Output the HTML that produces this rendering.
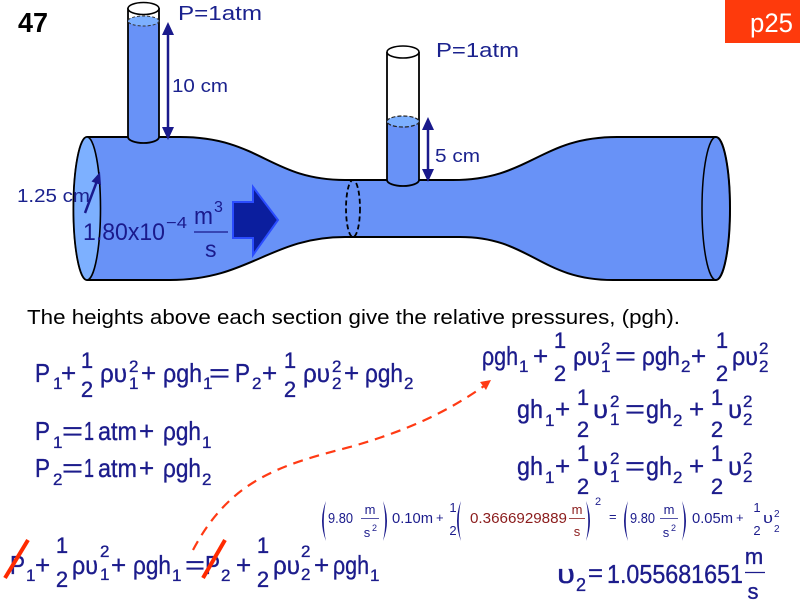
<!DOCTYPE html>
<html><head><meta charset="utf-8"><style>
html,body{margin:0;padding:0;background:#fff;}
svg{display:block;}
text{font-family:"Liberation Sans",sans-serif;}
.eq text{stroke:#1c1c8c;stroke-width:0.35;}
</style></head><body>
<svg width="800" height="600" viewBox="0 0 800 600" xmlns="http://www.w3.org/2000/svg">
<rect width="800" height="600" fill="#fff"/>

<!-- pipe body -->
<path d="M87,137 L180,137 C260,137 270,180 345,180 L453,180 C530,180 540,137 617,137 L716,137 A14,71.5 0 0 1 716,280 L613,280 C540,280 530,237 460,237 L345,237 C270,237 250,280 170,280 L87,280 A13.5,71.5 0 0 1 87,137 Z" fill="#6892f7" stroke="#000" stroke-width="2"/>
<ellipse cx="87" cy="208.5" rx="13.5" ry="71.5" fill="#7db0ff" stroke="#000" stroke-width="1.6"/>
<ellipse cx="716" cy="208.5" rx="14" ry="71.5" fill="none" stroke="#000" stroke-width="1.5"/>
<ellipse cx="353" cy="208.5" rx="7" ry="28.5" fill="none" stroke="#000" stroke-width="1.8" stroke-dasharray="5 3"/>

<!-- left tube -->
<rect x="128" y="8" width="31" height="14" fill="#fff"/>
<rect x="128" y="21" width="31" height="117" fill="#6892f7"/>
<path d="M128,137 A15.5,6 0 0 0 159,137" fill="#6892f7" stroke="#000" stroke-width="1.8"/>
<line x1="128" y1="8" x2="128" y2="137" stroke="#000" stroke-width="1.8"/>
<line x1="159" y1="8" x2="159" y2="137" stroke="#000" stroke-width="1.8"/>
<ellipse cx="143.5" cy="21" rx="15.5" ry="5" fill="#7db0ff" stroke="#333" stroke-width="1" stroke-dasharray="3 2"/>
<ellipse cx="143.5" cy="8.5" rx="15.5" ry="6" fill="#fff" stroke="#000" stroke-width="1.6"/>

<!-- right tube -->
<rect x="387" y="52" width="32" height="70" fill="#fff"/>
<rect x="387" y="122" width="32" height="59" fill="#6892f7"/>
<path d="M387,180 A16,6 0 0 0 419,180" fill="#6892f7" stroke="#000" stroke-width="1.8"/>
<line x1="387" y1="52" x2="387" y2="180" stroke="#000" stroke-width="1.8"/>
<line x1="419" y1="52" x2="419" y2="180" stroke="#000" stroke-width="1.8"/>
<ellipse cx="403" cy="121.5" rx="16" ry="5.5" fill="#7db0ff" stroke="#222" stroke-width="1.2" stroke-dasharray="4 2"/>
<ellipse cx="403" cy="52" rx="16" ry="6" fill="#fff" stroke="#000" stroke-width="1.6"/>

<!-- dimension arrows -->
<g fill="#1a1a8c" stroke="none">
<line x1="168" y1="30" x2="168" y2="132" stroke="#1a1a8c" stroke-width="2.5"/>
<polygon points="168,22 162,35 174,35"/>
<polygon points="168,140 162,127 174,127"/>
<line x1="428" y1="125" x2="428" y2="174" stroke="#1a1a8c" stroke-width="2.5"/>
<polygon points="428,117 422,130 434,130"/>
<polygon points="428,182 422,169 434,169"/>
<line x1="85" y1="213" x2="97" y2="181" stroke="#1a1a8c" stroke-width="2.5"/>
<polygon points="100,172 101,185 91.5,181.5"/>
</g>

<!-- flow arrow -->
<polygon points="233,202 253,202 253,187 278,220 253,255 253,238 233,238" fill="#0b1e9e" stroke="#2a4cff" stroke-width="2"/>

<!-- labels -->
<g fill="#1b228e">
<text x="178" y="20" font-size="20" textLength="84" lengthAdjust="spacingAndGlyphs">P=1atm</text>
<text x="172" y="92" font-size="18" textLength="56" lengthAdjust="spacingAndGlyphs">10 cm</text>
<text x="17" y="202" font-size="18" textLength="73" lengthAdjust="spacingAndGlyphs">1.25 cm</text>
<text x="436" y="57" font-size="20" textLength="83" lengthAdjust="spacingAndGlyphs">P=1atm</text>
<text x="435" y="162" font-size="18" textLength="45" lengthAdjust="spacingAndGlyphs">5 cm</text>
</g>
<g fill="#1a1a8c">
<text x="83" y="240" font-size="24" textLength="82" lengthAdjust="spacingAndGlyphs">1.80x10</text>
<text x="166" y="228" font-size="16" textLength="21" lengthAdjust="spacingAndGlyphs">−4</text>
<text x="194" y="224" font-size="24" textLength="19" lengthAdjust="spacingAndGlyphs">m</text>
<text x="214" y="212" font-size="16">3</text>
<line x1="194" y1="232" x2="228" y2="232" stroke="#1a1a8c" stroke-width="1.2"/>
<text x="205" y="257" font-size="23">s</text>
</g>

<text x="18" y="32" font-size="28" font-weight="bold" fill="#000" textLength="30" lengthAdjust="spacingAndGlyphs">47</text>
<rect x="725" y="0" width="75" height="43" fill="#fe3a0c"/>
<text x="750" y="32" font-size="27" fill="#fff" textLength="43" lengthAdjust="spacingAndGlyphs">p25</text>

<text x="27" y="324" font-size="20" fill="#000" textLength="653" lengthAdjust="spacingAndGlyphs">The heights above each section give the relative pressures, (pgh).</text>

<!-- Equation 1 -->
<g class="eq" fill="#1c1c8c" font-size="26">
<text x="35" y="382" textLength="15" lengthAdjust="spacingAndGlyphs">P</text>
<text x="53" y="389" font-size="17">1</text>
<text x="61" y="382">+</text>
<text x="87" y="368" font-size="22" text-anchor="middle">1</text>
<text x="87" y="397" font-size="22" text-anchor="middle">2</text>
<text x="100" y="382" textLength="27" lengthAdjust="spacingAndGlyphs">ρυ</text>
<text x="129" y="372" font-size="17">2</text>
<text x="129" y="389" font-size="17">1</text>
<text x="141" y="382">+</text>
<text x="163" y="382" textLength="39" lengthAdjust="spacingAndGlyphs">ρgh</text>
<text x="203" y="389" font-size="17">1</text>
<text x="209" y="382" textLength="21" lengthAdjust="spacingAndGlyphs">=</text>
<text x="235" y="382" textLength="15" lengthAdjust="spacingAndGlyphs">P</text>
<text x="252" y="389" font-size="17">2</text>
<text x="262" y="382">+</text>
<text x="290" y="368" font-size="22" text-anchor="middle">1</text>
<text x="290" y="397" font-size="22" text-anchor="middle">2</text>
<text x="303" y="382" textLength="27" lengthAdjust="spacingAndGlyphs">ρυ</text>
<text x="332" y="372" font-size="17">2</text>
<text x="332" y="389" font-size="17">2</text>
<text x="344" y="382">+</text>
<text x="365" y="382" textLength="38" lengthAdjust="spacingAndGlyphs">ρgh</text>
<text x="404" y="389" font-size="17">2</text>
</g>

<!-- Equation 2,3 -->
<g class="eq" fill="#1c1c8c" font-size="26">
<text x="35" y="440" textLength="15" lengthAdjust="spacingAndGlyphs">P</text>
<text x="53" y="448" font-size="17">1</text>
<text x="62" y="440" textLength="21" lengthAdjust="spacingAndGlyphs">=</text>
<text x="84" y="440" textLength="10" lengthAdjust="spacingAndGlyphs">1</text>
<text x="98" y="440" textLength="39" lengthAdjust="spacingAndGlyphs">atm</text>
<text x="139" y="440">+</text>
<text x="163" y="440" textLength="38" lengthAdjust="spacingAndGlyphs">ρgh</text>
<text x="202" y="448" font-size="17">1</text>

<text x="35" y="477" textLength="15" lengthAdjust="spacingAndGlyphs">P</text>
<text x="53" y="485" font-size="17">2</text>
<text x="62" y="477" textLength="21" lengthAdjust="spacingAndGlyphs">=</text>
<text x="84" y="477" textLength="10" lengthAdjust="spacingAndGlyphs">1</text>
<text x="98" y="477" textLength="39" lengthAdjust="spacingAndGlyphs">atm</text>
<text x="139" y="477">+</text>
<text x="163" y="477" textLength="38" lengthAdjust="spacingAndGlyphs">ρgh</text>
<text x="202" y="485" font-size="17">2</text>
</g>

<!-- Right R1 -->
<g class="eq" fill="#1c1c8c" font-size="26">
<text x="482" y="365" textLength="36" lengthAdjust="spacingAndGlyphs">ρgh</text>
<text x="519" y="372" font-size="17">1</text>
<text x="533" y="365">+</text>
<text x="560" y="348" font-size="22" text-anchor="middle">1</text>
<text x="560" y="381" font-size="22" text-anchor="middle">2</text>
<text x="573" y="365" textLength="27" lengthAdjust="spacingAndGlyphs">ρυ</text>
<text x="601" y="354" font-size="17">2</text>
<text x="601" y="372" font-size="17">1</text>
<text x="615" y="365" textLength="21" lengthAdjust="spacingAndGlyphs">=</text>
<text x="642" y="365" textLength="38" lengthAdjust="spacingAndGlyphs">ρgh</text>
<text x="681" y="372" font-size="17">2</text>
<text x="691" y="365">+</text>
<text x="722" y="348" font-size="22" text-anchor="middle">1</text>
<text x="722" y="381" font-size="22" text-anchor="middle">2</text>
<text x="732" y="365" textLength="26" lengthAdjust="spacingAndGlyphs">ρυ</text>
<text x="759" y="354" font-size="17">2</text>
<text x="759" y="372" font-size="17">2</text>
</g>

<!-- Right R2 -->
<g class="eq" fill="#1c1c8c" font-size="26">
<text x="517" y="418" textLength="26" lengthAdjust="spacingAndGlyphs">gh</text>
<text x="545" y="426" font-size="17">1</text>
<text x="555" y="418">+</text>
<text x="583" y="405" font-size="22" text-anchor="middle">1</text>
<text x="583" y="437" font-size="22" text-anchor="middle">2</text>
<text x="593" y="418" textLength="15" lengthAdjust="spacingAndGlyphs">υ</text>
<text x="610" y="407" font-size="17">2</text>
<text x="610" y="425" font-size="17">1</text>
<text x="625" y="418" textLength="20" lengthAdjust="spacingAndGlyphs">=</text>
<text x="646" y="418" textLength="26" lengthAdjust="spacingAndGlyphs">gh</text>
<text x="673" y="426" font-size="17">2</text>
<text x="689" y="418">+</text>
<text x="717" y="405" font-size="22" text-anchor="middle">1</text>
<text x="717" y="437" font-size="22" text-anchor="middle">2</text>
<text x="728" y="418" textLength="14" lengthAdjust="spacingAndGlyphs">υ</text>
<text x="743" y="407" font-size="17">2</text>
<text x="743" y="425" font-size="17">2</text>
</g>

<!-- Right R3 -->
<g class="eq" fill="#1c1c8c" font-size="26">
<text x="517" y="475" textLength="26" lengthAdjust="spacingAndGlyphs">gh</text>
<text x="545" y="483" font-size="17">1</text>
<text x="555" y="475">+</text>
<text x="583" y="461" font-size="22" text-anchor="middle">1</text>
<text x="583" y="494" font-size="22" text-anchor="middle">2</text>
<text x="593" y="475" textLength="15" lengthAdjust="spacingAndGlyphs">υ</text>
<text x="610" y="464" font-size="17">2</text>
<text x="610" y="482" font-size="17">1</text>
<text x="625" y="475" textLength="20" lengthAdjust="spacingAndGlyphs">=</text>
<text x="646" y="475" textLength="26" lengthAdjust="spacingAndGlyphs">gh</text>
<text x="673" y="483" font-size="17">2</text>
<text x="689" y="475">+</text>
<text x="717" y="461" font-size="22" text-anchor="middle">1</text>
<text x="717" y="494" font-size="22" text-anchor="middle">2</text>
<text x="728" y="475" textLength="14" lengthAdjust="spacingAndGlyphs">υ</text>
<text x="743" y="464" font-size="17">2</text>
<text x="743" y="482" font-size="17">2</text>
</g>

<!-- small numeric equation -->
<g fill="#1c1c8c" font-size="14.5">
<path d="M326,501 Q318,521 326,541 Q321.5,521 326,501 Z"/>
<text x="328" y="523" textLength="25" lengthAdjust="spacingAndGlyphs">9.80</text>
<text x="370" y="514" font-size="13" text-anchor="middle">m</text>
<line x1="361" y1="518.5" x2="379" y2="518.5" stroke="#1c1c8c" stroke-width="0.8"/>
<text x="367" y="537" font-size="13" text-anchor="middle">s</text>
<text x="372" y="531" font-size="9">2</text>
<path d="M383,501 Q391,521 383,541 Q387.5,521 383,501 Z"/>
<text x="392" y="523" textLength="41" lengthAdjust="spacingAndGlyphs">0.10m</text>
<text x="436" y="522" font-size="13">+</text>
<text x="453" y="512" font-size="13" text-anchor="middle">1</text>
<text x="453" y="535" font-size="13" text-anchor="middle">2</text>
<path d="M461,501 Q453,521 461,541 Q456.5,521 461,501 Z"/>
<text x="470" y="523" fill="#8b1c1c" textLength="97" lengthAdjust="spacingAndGlyphs">0.3666929889</text>
<text x="577" y="514" font-size="13" fill="#8b1c1c" text-anchor="middle">m</text>
<line x1="569" y1="518.5" x2="585" y2="518.5" stroke="#8b1c1c" stroke-width="0.8"/>
<text x="577" y="536" font-size="13" fill="#8b1c1c" text-anchor="middle">s</text>
<path d="M586,501 Q594,521 586,541 Q590.5,521 586,501 Z"/>
<text x="595" y="505" font-size="11">2</text>
<text x="609" y="521" font-size="13">=</text>
<path d="M628,501 Q620,521 628,541 Q623.5,521 628,501 Z"/>
<text x="630" y="523" textLength="25" lengthAdjust="spacingAndGlyphs">9.80</text>
<text x="669" y="514" font-size="13" text-anchor="middle">m</text>
<line x1="660" y1="518.5" x2="678" y2="518.5" stroke="#1c1c8c" stroke-width="0.8"/>
<text x="666" y="537" font-size="13" text-anchor="middle">s</text>
<text x="671" y="531" font-size="9">2</text>
<path d="M682,501 Q690,521 682,541 Q686.5,521 682,501 Z"/>
<text x="692" y="523" textLength="41" lengthAdjust="spacingAndGlyphs">0.05m</text>
<text x="736" y="522" font-size="13">+</text>
<text x="757" y="512" font-size="13" text-anchor="middle">1</text>
<text x="757" y="535" font-size="13" text-anchor="middle">2</text>
<text x="763" y="523" textLength="10" lengthAdjust="spacingAndGlyphs">υ</text>
<text x="774" y="517" font-size="10">2</text>
<text x="774" y="532" font-size="10">2</text>
</g>

<!-- v2 result -->
<g class="eq" fill="#1c1c8c">
<text x="557" y="583" font-size="27" textLength="18" lengthAdjust="spacingAndGlyphs">υ</text>
<text x="576" y="591" font-size="18">2</text>
<text x="588" y="581" font-size="24" textLength="15" lengthAdjust="spacingAndGlyphs">=</text>
<text x="607" y="583" font-size="26" textLength="136" lengthAdjust="spacingAndGlyphs">1.055681651</text>
<text x="754" y="564" font-size="22" text-anchor="middle">m</text>
<text x="753" y="599" font-size="22" text-anchor="middle">s</text>
</g>
<line x1="745" y1="572.5" x2="765" y2="572.5" stroke="#1c1c8c" stroke-width="1.2"/>

<!-- bottom-left equation -->
<g class="eq" fill="#1c1c8c" font-size="26">
<text x="10" y="574" textLength="15" lengthAdjust="spacingAndGlyphs">P</text>
<text x="26" y="581" font-size="17">1</text>
<text x="35" y="574">+</text>
<text x="62" y="553" font-size="22" text-anchor="middle">1</text>
<text x="62" y="587" font-size="22" text-anchor="middle">2</text>
<text x="72" y="574" textLength="26" lengthAdjust="spacingAndGlyphs">ρυ</text>
<text x="100" y="557" font-size="17">2</text>
<text x="100" y="580" font-size="17">1</text>
<text x="111" y="574">+</text>
<text x="133" y="574" textLength="38" lengthAdjust="spacingAndGlyphs">ρgh</text>
<text x="172" y="581" font-size="17">1</text>
<text x="185" y="574" textLength="20" lengthAdjust="spacingAndGlyphs">=</text>
<text x="205" y="574" textLength="15" lengthAdjust="spacingAndGlyphs">P</text>
<text x="221" y="581" font-size="17">2</text>
<text x="236" y="574">+</text>
<text x="263" y="553" font-size="22" text-anchor="middle">1</text>
<text x="263" y="587" font-size="22" text-anchor="middle">2</text>
<text x="273" y="574" textLength="27" lengthAdjust="spacingAndGlyphs">ρυ</text>
<text x="301" y="557" font-size="17">2</text>
<text x="301" y="580" font-size="17">2</text>
<text x="314" y="574">+</text>
<text x="333" y="574" textLength="36" lengthAdjust="spacingAndGlyphs">ρgh</text>
<text x="370" y="581" font-size="17">1</text>
</g>

<!-- red strike-throughs -->
<line x1="5" y1="578" x2="28" y2="540" stroke="#ff2a00" stroke-width="4"/>
<line x1="203" y1="578" x2="225" y2="540" stroke="#ff2a00" stroke-width="4"/>

<!-- red dashed curve arrow -->
<path d="M193,550 C230,480 280,465 350,447 C410,430 450,410 484,386" fill="none" stroke="#ff3a14" stroke-width="2.2" stroke-dasharray="10 7"/>
<polygon points="491,380 486,390 480,382" fill="#ff3a14"/>
</svg>
</body></html>
